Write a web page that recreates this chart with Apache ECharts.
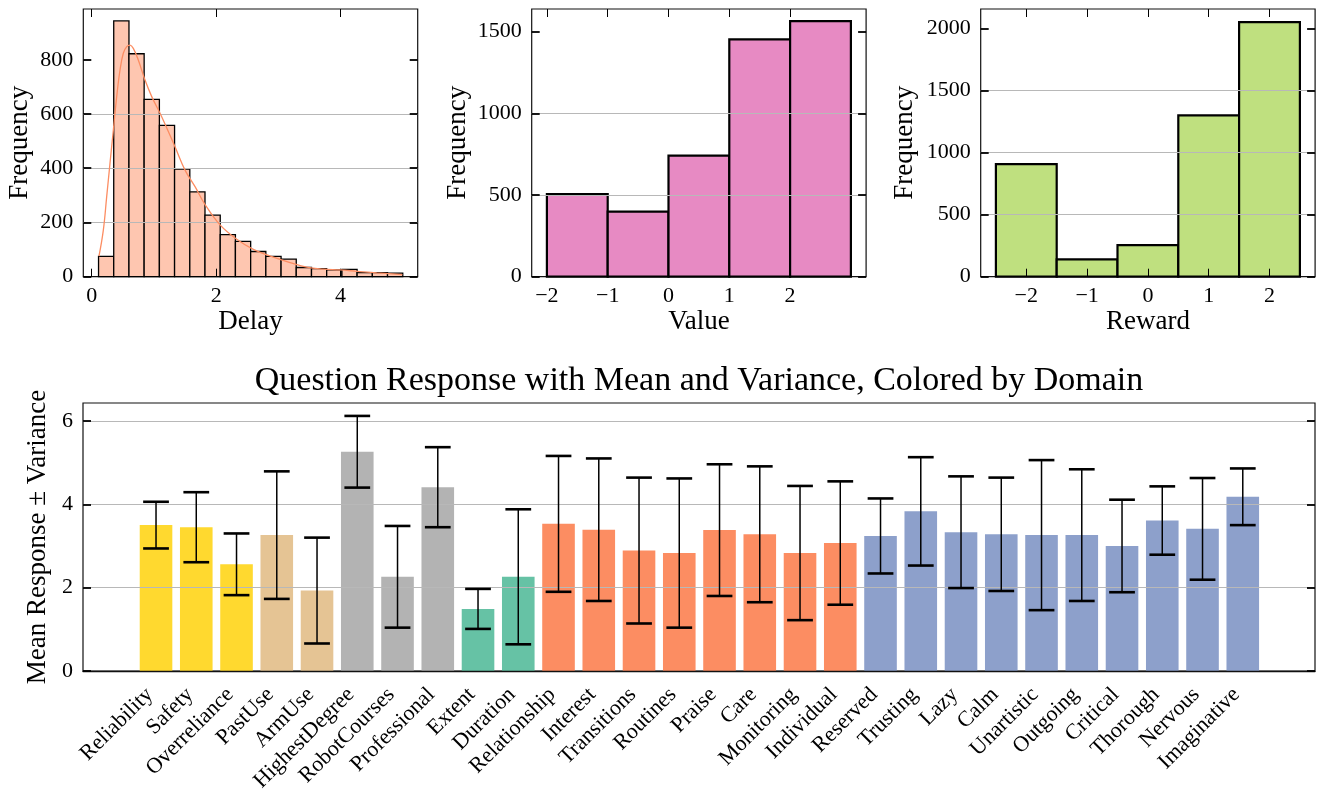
<!DOCTYPE html>
<html><head><meta charset="utf-8">
<script src="https://cdn.jsdelivr.net/npm/echarts@6/dist/echarts.min.js"></script>
<style>html,body{margin:0;padding:0;background:#fff}#c{width:1326px;height:792px}</style>
</head><body><div id="c"></div>
<script>
// ---------- Data ----------
const delayBinEdges = [0.11,0.354,0.599,0.843,1.088,1.332,1.577,1.821,2.066,2.310,2.555,2.799,3.044,3.288,3.533,3.777,4.022,4.266,4.511,4.755,5.00];
const delayCounts = [75,943,822,654,558,397,313,227,155,130,93,75,65,34,30,25,27,15,15,13];
const delayKdeX = [0.117,0.187,0.241,0.294,0.348,0.402,0.455,0.508,0.563,0.616,0.669,0.749,0.857,0.965,1.125,1.339,1.500,1.661,1.822,2.063,2.331,2.598,2.920,3.188,3.457,3.724,3.992,4.260,4.582,4.994];
const delayKdeY = [76,172,295,418,541,664,762,824,848,854,842,799,725,664,590,479,393,332,266,191,138,101,72,52,35,28,25,20,14,8];
const delayTicks = [0,2,4];

const valueBinEdges = [-2,-1,0,1,2,3];
const valueCounts = [506,398,741,1453,1565];
const valueTicks = [-2,-1,0,1,2];

const rewardBinEdges = [-2.5,-1.5,-0.5,0.5,1.5,2.5];
const rewardCounts = [906,139,255,1300,2051];
const rewardTicks = [-2,-1,0,1,2];

const categories = ['Reliability','Safety','Overreliance','PastUse','ArmUse','HighestDegree','RobotCourses','Professional','Extent','Duration','Relationship','Interest','Transitions','Routines','Praise','Care','Monitoring','Individual','Reserved','Trusting','Lazy','Calm','Unartistic','Outgoing','Critical','Thorough','Nervous','Imaginative'];
const domains = ['D1','D1','D1','D2','D2','D3','D3','D3','D4','D4','D5','D5','D5','D5','D5','D5','D5','D5','D6','D6','D6','D6','D6','D6','D6','D6','D6','D6'];
const means = [3.50,3.45,2.56,3.26,1.93,5.26,2.26,4.41,1.49,2.26,3.53,3.39,2.89,2.83,3.38,3.28,2.83,3.07,3.24,3.83,3.33,3.28,3.26,3.26,3.00,3.61,3.41,4.18];
const variances = [0.56,0.84,0.74,1.53,1.27,0.86,1.22,0.96,0.48,1.62,1.63,1.71,1.75,1.79,1.58,1.63,1.61,1.48,0.90,1.30,1.34,1.36,1.80,1.58,1.11,0.82,1.22,0.68];
const responseTicks = [0,2,4,6];

const domainColors = {D1:'#FFD92F', D2:'#E5C494', D3:'#B3B3B3', D4:'#66C2A5', D5:'#FC8D62', D6:'#8DA0CB'};

// ---------- Style ----------
const FONT = 'Liberation Serif';
const TICK = 22, NAME = 27;
const fmt = v => String(v).replace('-', '\u2212');
const GRID_COLOR = '#b8b8b8';

function histGrid(left){ return {left:left, top:9, width:334.4, height:267.7, show:true, borderColor:'#111', borderWidth:1.2, backgroundColor:'transparent', outerBoundsMode:'none'}; }

const grids = [histGrid(83.3), histGrid(531.7), histGrid(980.7),
  {left:83, top:403, width:1232, height:268, show:true, borderColor:'#111', borderWidth:1.2, backgroundColor:'transparent', outerBoundsMode:'none'},
  {left:135.9, top:403, width:1127, height:268, outerBoundsMode:'none'}];

const noLine = {show:false, onZero:false};
const xAxes = [], yAxes = [];
function addHistAxes(gi, xmin, xmax, xt, ymax, yt, xname, ygap){
  const tick = {inside:true, length:8, customValues:xt, lineStyle:{color:'#000', width:1}};
  xAxes.push({type:'value', gridIndex:gi, position:'bottom', min:xmin, max:xmax, z:3,
    axisLine:noLine, axisTick:tick, splitLine:{show:false},
    axisLabel:{customValues:xt, formatter:fmt, fontSize:TICK, color:'#000', margin:9, fontFamily:FONT},
    name:xname, nameLocation:'middle', nameGap:31, nameTextStyle:{fontSize:NAME, color:'#000', fontFamily:FONT}});
  xAxes.push({type:'value', gridIndex:gi, position:'top', min:xmin, max:xmax, z:3,
    axisLine:noLine, axisTick:tick, splitLine:{show:false}, axisLabel:{show:false}});
  const ytick = {inside:true, length:8, customValues:yt, lineStyle:{color:'#000', width:1.8}};
  yAxes.push({type:'value', gridIndex:gi, position:'left', min:0, max:ymax, z:3,
    axisLine:noLine, axisTick:ytick,
    axisLabel:{customValues:yt, formatter:fmt, fontSize:TICK, color:'#000', margin:10, fontFamily:FONT},
    splitLine:{show:true, showMinLine:false, showMaxLine:false, lineStyle:{color:GRID_COLOR, width:1}},
    name:'Frequency', nameLocation:'middle', nameGap:ygap, nameTextStyle:{fontSize:NAME, color:'#000', fontFamily:FONT}});
  yAxes.push({type:'value', gridIndex:gi, position:'right', min:0, max:ymax, z:3,
    axisLine:noLine, axisTick:ytick, axisLabel:{show:false}, splitLine:{show:false}});
}
addHistAxes(0, -0.135, 5.24, delayTicks, 987, [0,200,400,600,800], 'Delay', 50);
addHistAxes(1, -2.25, 3.25, valueTicks, 1639, [0,500,1000,1500], 'Value', 60);
addHistAxes(2, -2.75, 2.75, rewardTicks, 2156, [0,500,1000,1500,2000], 'Reward', 62);

// bottom frame (grid 3): xAxis index 6, yAxis index 6,7
xAxes.push({type:'value', gridIndex:3, position:'bottom', min:0, max:1, z:3,
  axisLine:{show:true, onZero:false, lineStyle:{color:'#111', width:1.4}}, axisTick:{show:false}, axisLabel:{show:false}, splitLine:{show:false}});
yAxes.push({type:'value', gridIndex:3, position:'left', min:0, max:6.43, z:3,
  axisLine:noLine, axisTick:{inside:true, length:8, customValues:responseTicks, lineStyle:{color:'#000', width:1.8}},
  axisLabel:{customValues:responseTicks, formatter:fmt, fontSize:TICK, color:'#000', margin:10, fontFamily:FONT},
  splitLine:{show:true, showMinLine:false, lineStyle:{color:GRID_COLOR, width:1}},
  name:'Mean Response \u00B1 Variance', nameLocation:'middle', nameGap:28, nameTextStyle:{fontSize:NAME, color:'#000', fontFamily:FONT}});
yAxes.push({type:'value', gridIndex:3, position:'right', min:0, max:6.43, z:3,
  axisLine:noLine, axisTick:{inside:true, length:8, customValues:responseTicks, lineStyle:{color:'#000', width:1.8}},
  axisLabel:{show:false}, splitLine:{show:false}});
// bottom bars (grid 4): xAxis index 7 (bottom), 8 (top); yAxis index 8
xAxes.push({type:'category', gridIndex:4, position:'bottom', data:categories, z:3,
  axisLine:noLine, axisTick:{inside:true, length:8, alignWithLabel:true, interval:0, lineStyle:{color:'#000', width:1}},
  axisLabel:{interval:0, rotate:45, fontSize:TICK, color:'#000', margin:14, padding:[0,9,0,0], fontFamily:FONT}, splitLine:{show:false}});
xAxes.push({type:'category', gridIndex:4, position:'top', data:categories, z:3,
  axisLine:noLine, axisTick:{inside:true, length:8, alignWithLabel:true, interval:0, lineStyle:{color:'#000', width:1}},
  axisLabel:{show:false}, splitLine:{show:false}});
yAxes.push({type:'value', gridIndex:4, min:0, max:6.43, show:false});

function histSeries(xi, yi, edges, counts, fill, lw){
  return {type:'custom', xAxisIndex:xi, yAxisIndex:yi, z:2,
    data: counts.map((c,i)=>[edges[i], edges[i+1], c]),
    encode:{x:[0,1], y:2},
    renderItem:function(params, api){
      const p0 = api.coord([api.value(0), api.value(2)]);
      const p1 = api.coord([api.value(1), 0]);
      return {type:'rect', shape:{x:p0[0], y:p0[1], width:p1[0]-p0[0], height:p1[1]-p0[1]},
        style:{fill:fill, stroke:'#000', lineWidth:lw}};
    }};
}

const series = [
  histSeries(0, 0, delayBinEdges, delayCounts, '#FEC6B0', 1.3),
  {type:'line', xAxisIndex:0, yAxisIndex:0, z:4, smooth:0.4, showSymbol:false, symbol:'none',
    data: delayKdeX.map((x,i)=>[x, delayKdeY[i]]), lineStyle:{color:'#FC8D62', width:1.3}},
  histSeries(2, 2, valueBinEdges, valueCounts, '#E78AC3', 2.2),
  histSeries(4, 4, rewardBinEdges, rewardCounts, '#BFE07F', 2.2),
  {type:'bar', xAxisIndex:7, yAxisIndex:8, z:2, barWidth:'81%',
    data: means.map((m,i)=>({value:m, itemStyle:{color:domainColors[domains[i]]}}))},
  {type:'custom', xAxisIndex:7, yAxisIndex:8, z:5,
    data: means.map((m,i)=>[i, m - variances[i], m + variances[i]]),
    encode:{x:0, y:[1,2]},
    renderItem:function(params, api){
      const lo = api.coord([api.value(0), api.value(1)]);
      const hi = api.coord([api.value(0), api.value(2)]);
      const hw = api.size([1,0])[0]*0.32;
      const st = {stroke:'#000', lineWidth:1.5};
      const cap = {stroke:'#000', lineWidth:2.6};
      return {type:'group', children:[
        {type:'line', shape:{x1:lo[0], y1:lo[1], x2:hi[0], y2:hi[1]}, style:st},
        {type:'line', shape:{x1:lo[0]-hw, y1:lo[1], x2:lo[0]+hw, y2:lo[1]}, style:cap},
        {type:'line', shape:{x1:hi[0]-hw, y1:hi[1], x2:hi[0]+hw, y2:hi[1]}, style:cap}
      ]};
    }}
];

const chart = echarts.init(document.getElementById('c'), null, {renderer:'canvas'});
chart.setOption({
  animation:false,
  backgroundColor:'#fff',
  textStyle:{fontFamily:FONT},
  title:{text:'Question Response with Mean and Variance, Colored by Domain', left:694, top:359, textAlign:'center',
    textStyle:{fontSize:34, fontWeight:'normal', color:'#000', fontFamily:FONT}},
  grid:grids, xAxis:xAxes, yAxis:yAxes, series:series
});
</script></body></html>
